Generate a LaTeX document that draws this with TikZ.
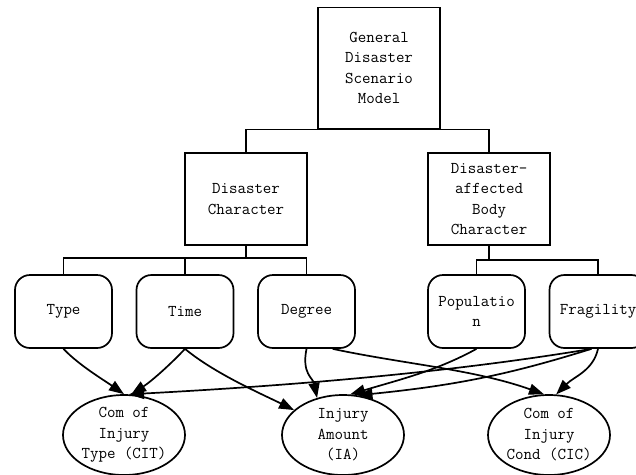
\documentclass[tikz,border=0pt]{standalone}
\usepackage{tikz}
\usetikzlibrary{positioning,arrows.meta,shapes.geometric,calc}

\begin{document}
\begin{tikzpicture}[x=1pt, y=-1pt, >={Triangle[length=15pt,width=11pt]},
    font=\fontsize{16.5}{20.5}\selectfont\ttfamily, line width=1.7pt,
    box/.style={draw, rectangle, align=center, inner sep=0pt, minimum width=122pt},
    attr/.style={draw, rectangle, rounded corners=15pt, align=center, inner sep=0pt,
        minimum width=97pt, minimum height=73pt},
    result/.style={draw, ellipse, align=center, inner sep=0pt,
        minimum width=122pt, minimum height=80pt}]
    \useasboundingbox (0,0) rectangle (636,474);

    % Model and its two parts
    \node[box, minimum height=121pt] (gdsm) at (379,68) {General\\Disaster\\Scenario\\Model};
    \node[box, minimum height=92pt] (dc) at (246,199) {Disaster\\Character};
    \node[box, minimum height=92pt] (dab) at (489,199) {Disaster-\\affected\\Body\\Character};

    % Attributes
    \node[attr] (type) at (63.5,311.5) {Type};
    \node[attr] (time) at (185,311.5) {Time};
    \node[attr] (degree) at (306.5,311.5) {Degree};
    \node[attr] (pop) at (476.5,311.5) {Populatio\\n};
    \node[attr] (frag) at (598,311.5) {Fragility};

    % Results
    \node[result] (cit) at (124,435) {Com of\\Injury\\Type (CIT)};
    \node[result] (ia) at (343,435) {Injury\\Amount\\(IA)};
    \node[result] (cic) at (549,435) {Com of\\Injury\\Cond (CIC)};

    % Tree lines
    \draw (gdsm.south) -| (dc.north);
    \draw (gdsm.south) -| (dab.north);
    \foreach \n in {type,time,degree}
        \draw (dc.south) |- ([yshift=16pt]\n.north) -- (\n.north);
    \foreach \n in {pop,frag}
        \draw (dab.south) |- ([yshift=14pt]\n.north) -- (\n.north);

    % Influence arrows
    \draw[->] (type.south) .. controls +(15,16) and +(-20,-14) .. (cit.north);
    \draw[->] (time.south) .. controls +(-15,16) and +(20,-13) .. (cit.80);
    \draw[->] (time.south) .. controls +(30,25) and +(-30,-15) .. (ia.153);
    \draw[->] (degree.south) .. controls +(-5,25) and +(-4,-20) .. (ia.125);
    \draw[->] (degree.-55) .. controls +(70,15) and +(-70,-25) .. (cic.97);
    \draw[->] (pop.south) .. controls +(-40,22) and +(50,-15) .. (ia.80);
    \draw[->] (frag.-100) .. controls +(-150,25) and +(150,-8) .. (cit.83);
    \draw[->] (frag.-100) .. controls +(-80,25) and +(100,-10) .. (ia.70);
    \draw[->] (frag.south) .. controls +(-5,22) and +(18,-18) .. (cic.80);
\end{tikzpicture}
\end{document}
